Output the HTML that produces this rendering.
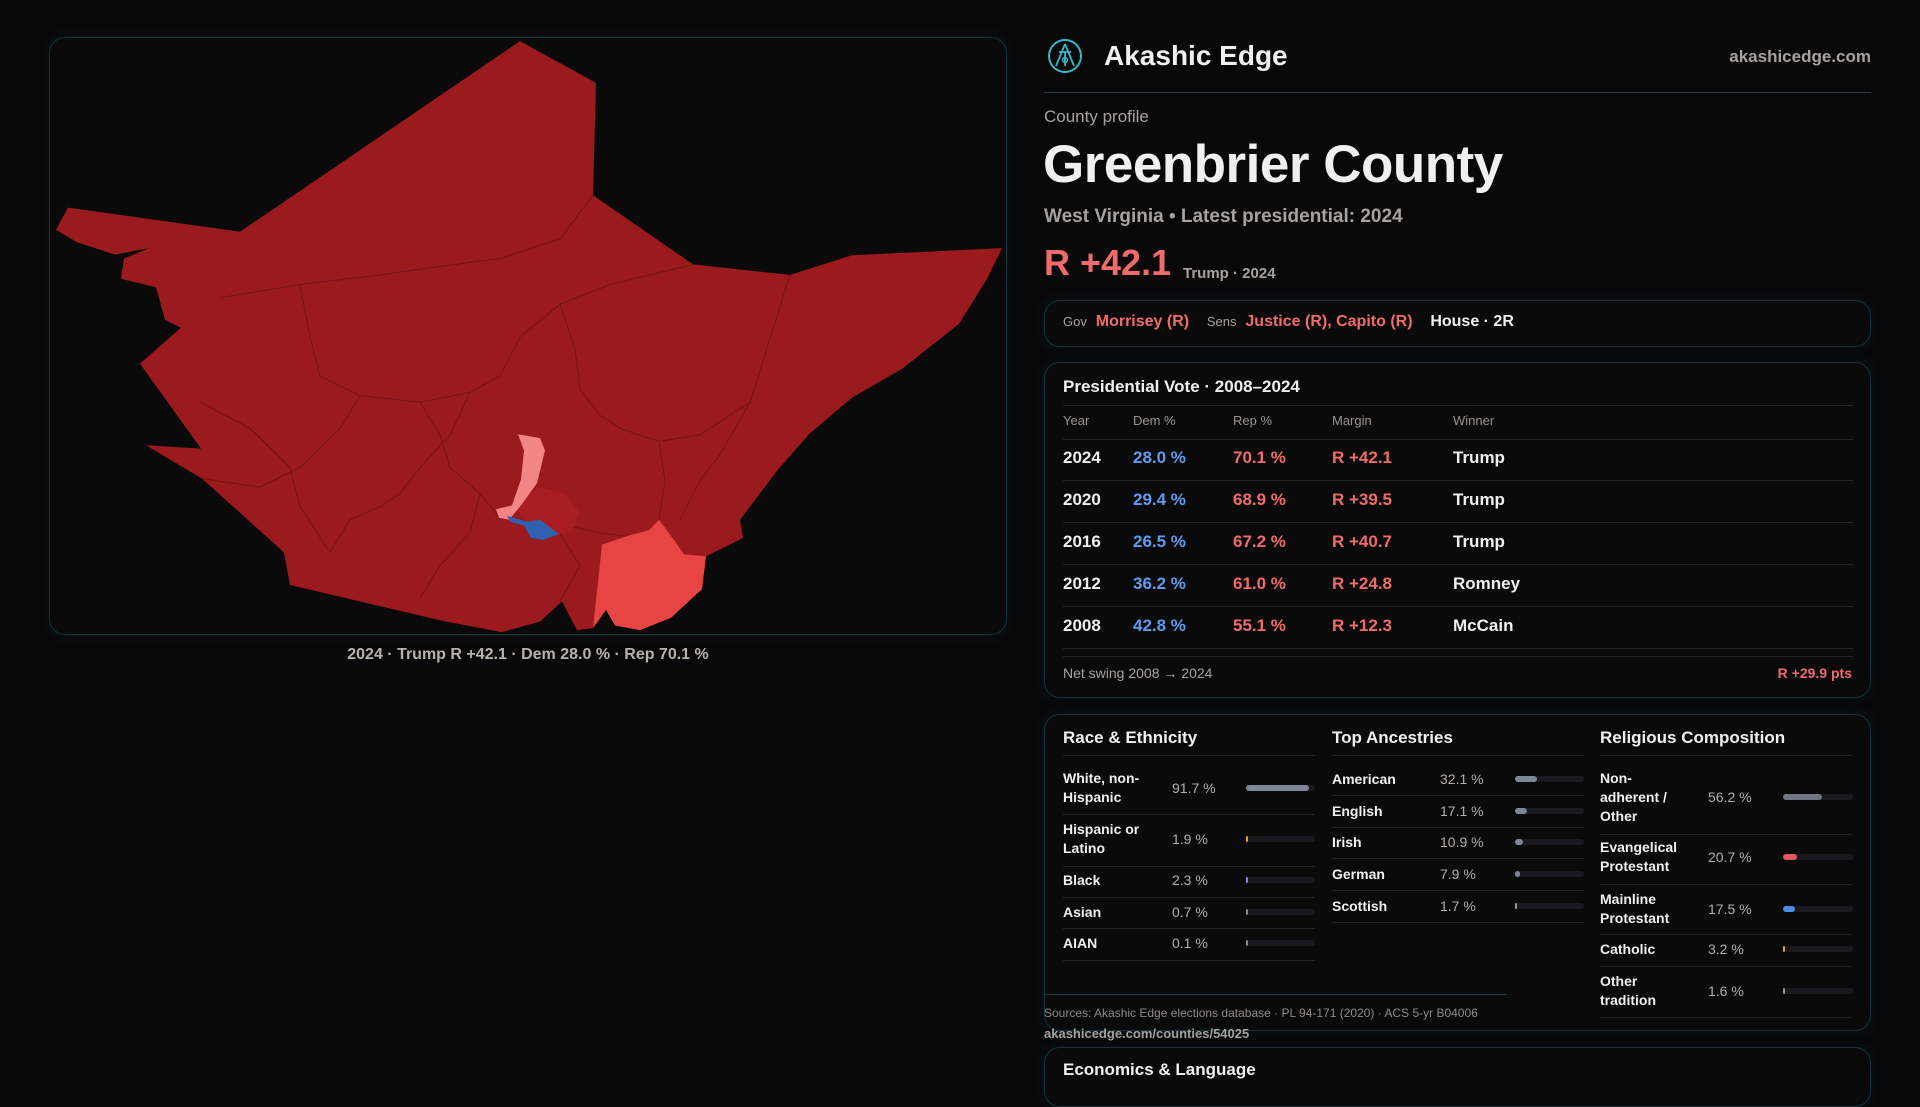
<!DOCTYPE html>
<html><head><meta charset="utf-8"><title>Greenbrier County</title>
<style>
*{box-sizing:border-box;margin:0;padding:0}
body{width:1920px;height:1080px;overflow:hidden;background:#080809;font-family:"Liberation Sans",sans-serif;color:#f2f0ee;position:relative}
.abs{position:absolute;white-space:nowrap}
.panel{position:absolute;border:1px solid #15353a;border-radius:16px;background:#0a0a0b;box-shadow:0 0 14px rgba(20,60,70,.25)}
.muted{color:#a8a29e}
.red{color:#f26b6b}
.blue{color:#5f9cf0}
.hdr{font-size:13px;color:#9a948f}
.row{font-size:17px;font-weight:bold}
.hline{position:absolute;height:1px;background:#222426}
.dtitle{font-size:17px;font-weight:bold}
.dlab{font-size:14px;font-weight:bold;line-height:19px;white-space:normal}
.dval{font-size:14px;color:#b3ada8}
</style></head><body>

<div class="panel" style="left:49px;top:37px;width:958px;height:598px;"></div>
<svg class="abs" style="left:0;top:0" width="1020" height="650" viewBox="0 0 1020 650">
 <g transform="translate(0,30) scale(1,0.653) translate(0,-30)">
  <polygon fill="#9b1a1e" points="520,47 596,111 593,283 693,389 790,405 852,375 1002,364 987,411 959,480 902,549 852,593 809,649 777,705 740,780 743,808 706,836 702,886 671,930 640,949 615,942 606,918 593,946 577,949 562,905 540,936 502,952 446,936 290,880 284,830 202,717 146,666 201,671 140,541 181,486 165,474 156,424 121,411 124,380 149,364 115,374 77,355 56,336 68,302 240,339"/>
  <g fill="none" stroke="#6b1316" stroke-width="1" opacity=".8" vector-effect="non-scaling-stroke">
    <polyline vector-effect="non-scaling-stroke" points="220,440 300,420 380,405 450,390 500,380 560,350 593,283"/>
    <polyline vector-effect="non-scaling-stroke" points="300,420 310,500 320,560 360,590 420,600 470,585 500,560 520,500 560,450 610,420 693,389"/>
    <polyline vector-effect="non-scaling-stroke" points="360,590 340,640 300,700 260,730 202,717"/>
    <polyline vector-effect="non-scaling-stroke" points="420,600 440,650 450,700 480,740 500,777"/>
    <polyline vector-effect="non-scaling-stroke" points="560,450 575,520 580,580 600,620 620,640 659,660 700,650 750,600 790,405"/>
    <polyline vector-effect="non-scaling-stroke" points="470,585 450,650 420,700 400,740 380,760 350,780 330,830"/>
    <polyline vector-effect="non-scaling-stroke" points="659,660 665,720 659,780"/>
    <polyline vector-effect="non-scaling-stroke" points="540,780 570,790 600,800 627,805"/>
    <polyline vector-effect="non-scaling-stroke" points="480,740 470,800 440,850 420,900"/>
    <polyline vector-effect="non-scaling-stroke" points="560,802 580,850 560,905"/>
    <polyline vector-effect="non-scaling-stroke" points="750,600 720,680 700,720 680,780"/>
    <polyline vector-effect="non-scaling-stroke" points="200,600 250,640 290,700 300,760 330,830"/>
  </g>
  <polygon fill="#a71d22" points="512,758 540,730 565,740 580,770 570,800 545,805 527,783"/>
  <polygon fill="#e94444" points="659,780 674,811 684,833 706,836 702,886 671,930 640,949 615,942 606,918 593,946 602,818 627,805 649,796"/>
  <polygon fill="#f28686" points="518,649 540,655 545,674 537,724 521,758 509,780 499,777 496,764 512,758 521,718 524,674"/>
  <polygon fill="#2f60b0" points="507,774 527,783 540,780 559,802 543,811 531,808 524,789 510,783"/>
 </g>
</svg>
<div class="abs" style="left:0;width:1056px;top:646px;text-align:center;font-size:16px;font-weight:bold;color:#b8b2ac">2024 · Trump R +42.1 · Dem 28.0 % · Rep 70.1 %</div>

<svg class="abs" style="left:1047px;top:38px" width="36" height="36" viewBox="0 0 36 36">
  <circle cx="18" cy="18" r="16" fill="none" stroke="#35b9c9" stroke-width="2"/>
  <path d="M18 6 L9 28 M18 6 L27 28 M12 14 L24 14 M18 14 L18 28" stroke="#35b9c9" stroke-width="1.8" fill="none"/>
  <circle cx="18" cy="22" r="2.5" fill="none" stroke="#35b9c9" stroke-width="1.5"/>
</svg>
<div class="abs" style="left:1104px;top:40px;font-size:28px;font-weight:bold">Akashic Edge</div>
<div class="abs" style="right:49px;top:47px;font-size:17px;font-weight:bold;color:#a8a29e">akashicedge.com</div>
<div class="hline" style="left:1044px;width:827px;top:92px;background:#174046"></div>

<div class="abs muted" style="left:1044px;top:107px;font-size:17px">County profile</div>
<div class="abs" style="left:1043px;top:134px;font-size:53px;font-weight:bold;letter-spacing:-0.5px">Greenbrier County</div>
<div class="abs muted" style="left:1044px;top:206px;font-size:19px;font-weight:bold">West Virginia • Latest presidential: 2024</div>
<div class="abs red" style="left:1044px;top:242px;font-size:36px;font-weight:bold">R +42.1</div>
<div class="abs muted" style="left:1183px;top:265px;font-size:15px;font-weight:bold">Trump · 2024</div>

<div class="panel" style="left:1044px;top:300px;width:827px;height:47px;"></div>
<div class="abs" style="left:1063px;top:313px;font-size:16px;font-weight:bold">
<span class="muted" style="font-size:13px;font-weight:normal">Gov</span>&nbsp; <span class="red">Morrisey (R)</span>&nbsp;&nbsp;&nbsp; <span class="muted" style="font-size:13px;font-weight:normal">Sens</span>&nbsp; <span class="red">Justice (R), Capito (R)</span>&nbsp;&nbsp;&nbsp; House · 2R</div>

<div class="panel" style="left:1044px;top:362px;width:827px;height:336px;"></div>
<div class="abs dtitle" style="left:1063px;top:377px">Presidential Vote · 2008–2024</div>
<div class="hline" style="left:1063px;width:790px;top:405px"></div>
<div class="abs hdr" style="left:1063px;top:413px">Year</div>
<div class="abs hdr" style="left:1133px;top:413px">Dem %</div>
<div class="abs hdr" style="left:1233px;top:413px">Rep %</div>
<div class="abs hdr" style="left:1332px;top:413px">Margin</div>
<div class="abs hdr" style="left:1453px;top:413px">Winner</div>
<div class="hline" style="left:1063px;width:790px;top:439px"></div>
<div id="presRows"></div>
<div class="hline" style="left:1063px;width:790px;top:656px"></div>
<div class="abs muted" style="left:1063px;top:665px;font-size:14px">Net swing 2008 → 2024</div>
<div class="abs red" style="right:68px;top:665px;font-size:14px;font-weight:bold">R +29.9 pts</div>

<div class="panel" style="left:1044px;top:714px;width:827px;height:317px;"></div>
<div class="abs dtitle" style="left:1063px;top:728px">Race &amp; Ethnicity</div>
<div class="abs dtitle" style="left:1332px;top:728px">Top Ancestries</div>
<div class="abs dtitle" style="left:1600px;top:728px">Religious Composition</div>
<div id="demo"></div>
<div class="hline" style="left:1044px;width:463px;top:994px;background:#174046"></div>
<div class="abs" style="left:1044px;top:1006px;font-size:12px;color:#8f8a86">Sources: Akashic Edge elections database · PL 94-171 (2020) · ACS 5-yr B04006</div>
<div class="abs" style="left:1044px;top:1026px;font-size:13px;font-weight:bold;color:#a8a29e">akashicedge.com/counties/54025</div>

<div class="panel" style="left:1044px;top:1047px;width:827px;height:60px;"></div>
<div class="abs dtitle" style="left:1063px;top:1060px">Economics &amp; Language</div>

<script>
const presYears=["2024","2020","2016","2012","2008"];
const presDem=[28.0,29.4,26.5,36.2,42.8];
const presRep=[70.1,68.9,67.2,61.0,55.1];
const presWinner=["Trump","Trump","Trump","Romney","McCain"];
const raceLabels=["White, non-Hispanic","Hispanic or Latino","Black","Asian","AIAN"];
const raceValues=[91.7,1.9,2.3,0.7,0.1];
const ancLabels=["American","English","Irish","German","Scottish"];
const ancValues=[32.1,17.1,10.9,7.9,1.7];
const relLabels=["Non-adherent / Other","Evangelical Protestant","Mainline Protestant","Catholic","Other tradition"];
const relValues=[56.2,20.7,17.5,3.2,1.6];
const relColors=["#6f7683","#e0595f","#4d8ee8","#e0a020","#9a9a9a"];
const raceColors=["#7d8797","#e0a020","#8a7ce0","#7d8797","#7d8797"];

const pr=document.getElementById('presRows');
presYears.forEach((y,i)=>{
  const top=448+i*42;
  const m=presRep[i]-presDem[i];
  const cells=[[1063,y,''],[1133,presDem[i].toFixed(1)+' %','blue'],[1233,presRep[i].toFixed(1)+' %','red'],[1332,(m>=0?'R +':'D +')+Math.abs(m).toFixed(1),'red'],[1453,presWinner[i],'']];
  cells.forEach((c,j)=>{
    const d=document.createElement('div');
    d.className='abs row '+c[2];
    d.style.left=c[0]+'px';d.style.top=top+'px';
    d.textContent=c[1];
    
    
    pr.appendChild(d);
  });
  const l=document.createElement('div');
  l.className='hline';l.style.left='1063px';l.style.width='790px';l.style.top=(top+32)+'px';
  
  
  pr.appendChild(l);
});

const demo=document.getElementById('demo');
function col(labels,values,colors,x0,valX,barX,barW,labW,tops,name){
  labels.forEach((lab,i)=>{
    const cy=tops[i];
    const a=document.createElement('div');
    a.className='abs dlab';a.style.left=x0+'px';a.style.width=labW+'px';
    a.textContent=lab;
    
    
    demo.appendChild(a);
    a.style.top=(cy-a.offsetHeight/2)+'px';
    const v=document.createElement('div');
    v.className='abs dval';v.style.left=valX+'px';v.style.top=(cy-8)+'px';
    v.textContent=values[i].toFixed(1)+' %';
    
    
    demo.appendChild(v);
    const t=document.createElement('div');
    t.className='abs';t.style.cssText+=`left:${barX}px;top:${cy-3}px;width:${barW}px;height:6px;border-radius:3px;background:#1a1a1e`;
    
    
    demo.appendChild(t);
    const f=document.createElement('div');
    f.className='abs';f.style.cssText+=`left:${barX}px;top:${cy-3}px;width:${Math.max(1.5,barW*values[i]/100)}px;height:6px;border-radius:3px;background:${colors[i]}`;
    
    
    demo.appendChild(f);
  });
}
col(raceLabels,raceValues,raceColors,1063,1172,1246,69,95,[788,839,880,912,943],'race');
col(ancLabels,ancValues,["#7d8797","#7d8797","#7d8797","#7d8797","#9a9a9a"],1332,1440,1515,69,100,[779,811,842,874,906],'ancestry');
col(relLabels,relValues,relColors,1600,1708,1783,70,82,[797,857,909,949,991],'religion');
[[1063,755,[814,866,897,928,960]],[1332,755,[795,827,858,890,922]],[1600,755,[834,884,934,966,1017]]].forEach(g=>{
  [g[1]].concat(g[2]).forEach(y=>{
    const l=document.createElement('div');
    l.className='hline';l.style.left=g[0]+'px';l.style.width='252px';l.style.top=y+'px';
    
    
    demo.appendChild(l);
  });
});
</script>
</body></html>
